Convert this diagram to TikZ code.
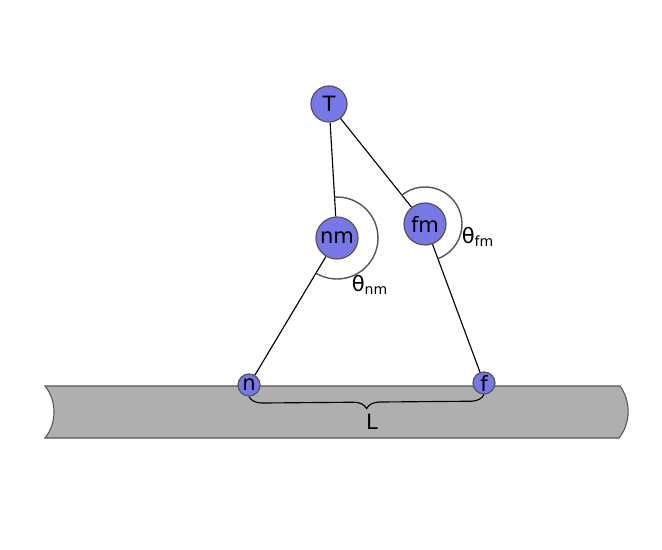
\documentclass[tikz,border=0pt]{standalone}
\usepackage{fontspec}
\setmainfont{DejaVu Sans}
\usetikzlibrary{decorations.pathreplacing}
\definecolor{ballblue}{HTML}{7777E8}
\definecolor{edgegray}{HTML}{555555}
\definecolor{bargray}{HTML}{AFAFAF}

\begin{document}
\begin{tikzpicture}[x=0.02cm,y=0.02cm,
    ball/.style={circle,draw=edgegray,fill=ballblue,line width=0.7pt,inner sep=0pt,font=\fontsize{12}{14}\selectfont},
    bigball/.style={ball,minimum size=0.84cm},
    smallball/.style={ball,minimum size=0.44cm},
    link/.style={black,line width=0.65pt},
    angle/.style={edgegray,line width=0.8pt}]
        \useasboundingbox (0,0) rectangle (662,549);
        \draw[fill=bargray,draw=edgegray,line width=0.6pt] (45,163) -- (620,163)
            .. controls (631,148) and (631,126) .. (619,111) -- (45,111)
            .. controls (57,126) and (57,148) .. (45,163) -- cycle;
        \node[ball,minimum size=0.72cm] (T) at (329,445) {T};
        \node[bigball] (nm) at (337,311) {nm};
        \node[bigball] (fm) at (425,325) {fm};
        \node[smallball] (n) at (249,164) {n};
        \node[smallball] (f) at (484,166) {f};
        \draw[link] (T) -- (nm);
        \draw[link] (T) -- (fm);
        \draw[link] (nm) -- (n);
        \draw[link] (fm) -- (f);
        \draw[angle] (nm) ++(93.4:0.82cm) arc[start angle=93.4,end angle=-120.9,radius=0.82cm];
        \draw[angle] (fm) ++(128.7:0.74cm) arc[start angle=128.7,end angle=-69.6,radius=0.74cm];
        \node[font=\fontsize{12}{14}\selectfont] (thnm) at (370,264) {θ\textsubscript{nm}};
        \node[font=\fontsize{12}{14}\selectfont] (thfm) at (478,312) {θ\textsubscript{fm}};
        \draw[link,decorate,decoration={brace,mirror,amplitude=0.26cm}] (n.south) -- (f.south);
        \node[font=\fontsize{12}{14}\selectfont] (L) at (372,127) {L};
    \end{tikzpicture}
\end{document}
